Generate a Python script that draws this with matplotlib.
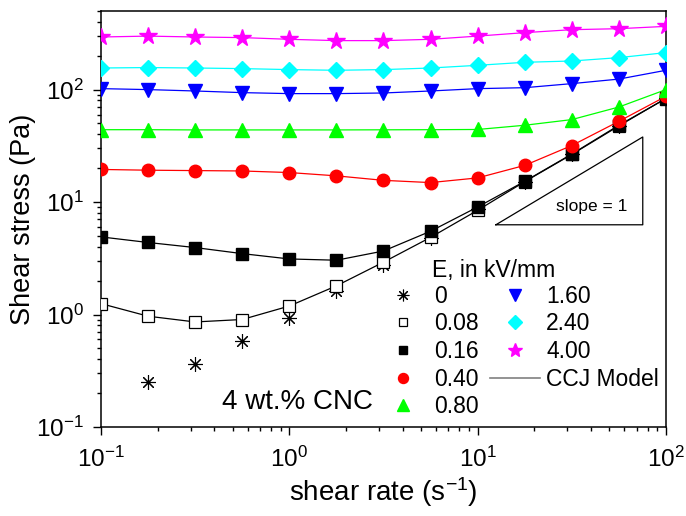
import numpy as np
import matplotlib
matplotlib.use("Agg")
import matplotlib.pyplot as plt
from matplotlib.lines import Line2D
from matplotlib.ticker import LogLocator, NullFormatter

plt.rcParams["font.family"] = ["Liberation Sans", "DejaVu Sans"]
plt.rcParams["mathtext.fontset"] = "custom"
plt.rcParams["mathtext.rm"] = "Liberation Sans"
plt.rcParams["mathtext.it"] = "Liberation Sans:italic"

# shear rate (1/s)
rate = [0.1, 0.178, 0.316, 0.562, 1.0, 1.78, 3.16, 5.62, 10.0, 17.8, 31.6, 56.2, 100.0]

# shear stress (Pa) for each field strength E (kV/mm)
s_0 = [np.nan, 0.249, 0.361, 0.579, 0.94, 1.61, 2.73, 4.76, 8.6, 15.2, 26.5, 47.0, 84.0]
s_008 = [1.25, 0.966, 0.859, 0.903, 1.19, 1.80, 2.92, 4.85, 8.45, 15.2, 26.5, 47.5, 83.7]
s_016 = [4.90, 4.37, 3.94, 3.48, 3.12, 3.04, 3.67, 5.50, 9.04, 15.3, 26.7, 48.2, 83.2]
s_040 = [19.5, 19.2, 19.05, 18.9, 18.3, 17.1, 15.6, 14.9, 16.4, 21.2, 31.8, 52.2, 87.2]
s_080 = [44.0, 44.0, 43.8, 43.8, 43.8, 43.8, 43.9, 44.0, 44.2, 48.2, 54.1, 70.0, 100.0]
s_160 = [102, 100, 97.2, 94.0, 92.1, 92.1, 93.3, 97.2, 102, 104, 113, 124, 148.5]
s_240 = [155.6, 157, 155.6, 153.7, 150.6, 148.5, 150.6, 155.6, 164.4, 174.9, 179.6, 192.4, 213.3]
s_400 = [293.6, 299, 293.6, 290, 280, 272.6, 272.6, 280, 299, 321, 341, 348, 365]

labels = ["0", "0.08", "0.16", "0.40", "0.80", "1.60", "2.40", "4.00"]

fig = plt.figure(figsize=(6.86, 5.16), dpi=100)
ax = fig.add_axes([0.1472, 0.1725, 0.8236, 0.8062])

series = [
    (s_0, dict(marker=(8, 2, 0), color="black", ms=10.5, mew=0.8), None),
    (s_008, dict(marker="s", mfc="white", mec="black", ms=8, mew=0.9), "black"),
    (s_016, dict(marker="s", color="black", ms=8), "black"),
    (s_040, dict(marker="o", color="#FF0000", ms=9), "#FF0000"),
    (s_080, dict(marker="^", color="#00FF00", ms=10), "#00FF00"),
    (s_160, dict(marker="v", color="#0000FF", ms=10), "#0000FF"),
    (s_240, dict(marker="D", color="#00FFFF", ms=8.5), "#00FFFF"),
    (s_400, dict(marker="*", color="#FF00FF", ms=13), "#FF00FF"),
]

handles = []
for (vals, mk, lc), lab in zip(series, labels):
    if lc is not None:
        ax.plot(rate, vals, "-", color=lc, lw=0.9, zorder=2)
    h, = ax.plot(rate, vals, linestyle="none", label=lab, zorder=3, **mk)
    handles.append(h)
handles.append(Line2D([], [], color="#808080", lw=1.2, label="CCJ Model"))

ax.set_xscale("log")
ax.set_yscale("log")
ax.set_xlim(0.1, 100)
ax.set_ylim(0.1, 500)

ax.tick_params(which="both", direction="out", top=False, right=False,
               labelsize=17.5, width=1.0)
ax.tick_params(which="major", length=5.5)
ax.tick_params(which="minor", length=3)
ax.tick_params(axis="x", which="major", pad=9)
ax.tick_params(axis="y", which="major", pad=7)
ax.xaxis.set_minor_locator(LogLocator(base=10, subs=np.arange(2, 10), numticks=20))
ax.yaxis.set_minor_locator(LogLocator(base=10, subs=np.arange(2, 10), numticks=20))
ax.xaxis.set_minor_formatter(NullFormatter())
ax.yaxis.set_minor_formatter(NullFormatter())
for sp in ax.spines.values():
    sp.set_linewidth(1.1)

ax.set_xlabel("shear rate (s$^{-1}$)", fontsize=20, labelpad=2)
ax.set_ylabel("Shear stress (Pa)", fontsize=19.5, labelpad=0)

# slope = 1 guide triangle
tri_x = [12.5, 75.3, 75.3, 12.5]
tri_y = [6.28, 6.28, 37.9, 6.28]
ax.plot(tri_x, tri_y, color="black", lw=0.9)
ax.text(40.4, 9.04, "slope = 1", fontsize=12.5, ha="center", va="center")

ax.text(0.2136, 0.043, "4 wt.% CNC", transform=ax.transAxes,
        fontsize=20, ha="left", va="baseline")

ax.text(0.586, 0.377, "E, in kV/mm", transform=ax.transAxes,
        fontsize=16.5, ha="left", va="center")
ax.legend(handles=handles, ncol=2, loc="center left",
          bbox_to_anchor=(0.4897, 0.1815), frameon=False, fontsize=16.5,
          borderpad=0, handlelength=2.18, handletextpad=0.28,
          columnspacing=0.48, labelspacing=0.2, markerscale=0.8,
          borderaxespad=0)

fig.savefig("out.png", dpi=100)
